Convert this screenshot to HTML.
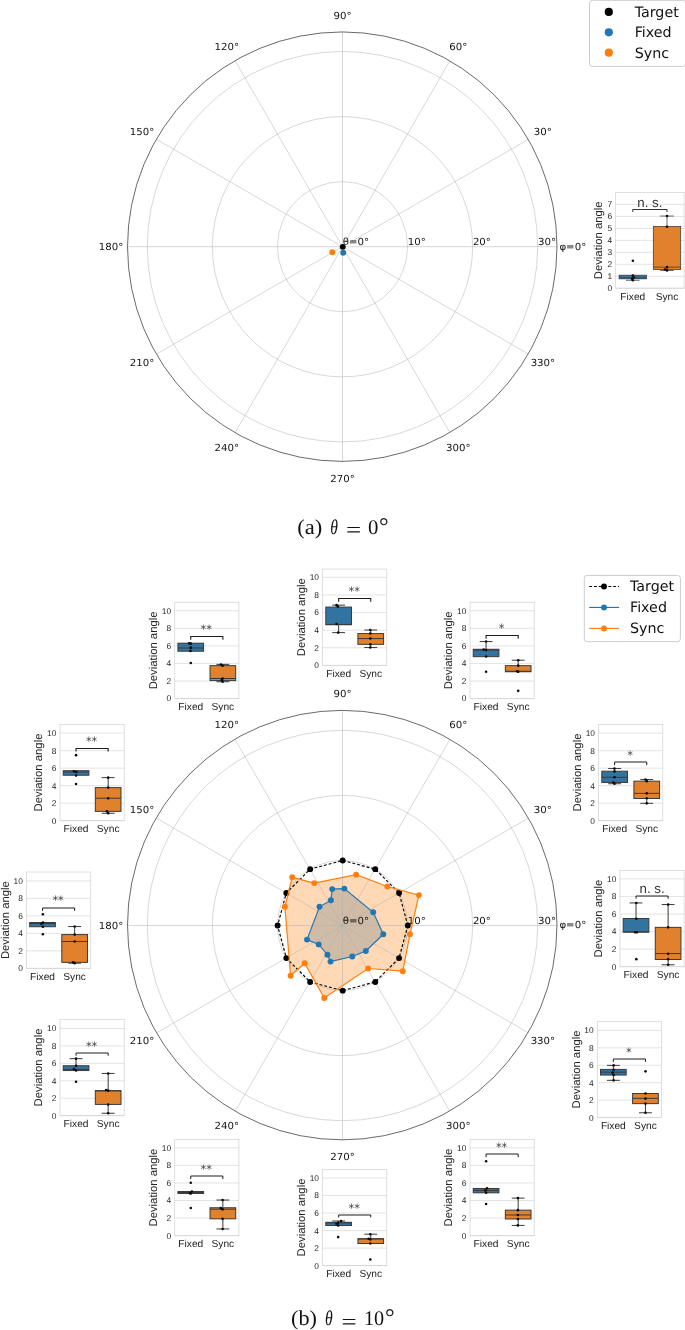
<!DOCTYPE html>
<html><head><meta charset="utf-8"><title>Figure</title>
<style>html,body{margin:0;padding:0;background:#fff}svg{display:block}</style></head>
<body>
<svg width="685" height="1330" viewBox="0 0 685 1330" text-rendering="geometricPrecision">
<rect width="685" height="1330" fill="#fff"/>
<circle cx="342.5" cy="246.7" r="65.07" fill="none" stroke="#b0b0b0" stroke-width="0.5"/>
<circle cx="342.5" cy="246.7" r="130.13" fill="none" stroke="#b0b0b0" stroke-width="0.5"/>
<circle cx="342.5" cy="246.7" r="195.20" fill="none" stroke="#b0b0b0" stroke-width="0.5"/>
<line x1="342.5" y1="246.7" x2="557.22" y2="246.70" stroke="#b0b0b0" stroke-width="0.5"/>
<line x1="342.5" y1="246.7" x2="528.45" y2="139.34" stroke="#b0b0b0" stroke-width="0.5"/>
<line x1="342.5" y1="246.7" x2="449.86" y2="60.75" stroke="#b0b0b0" stroke-width="0.5"/>
<line x1="342.5" y1="246.7" x2="342.50" y2="31.98" stroke="#b0b0b0" stroke-width="0.5"/>
<line x1="342.5" y1="246.7" x2="235.14" y2="60.75" stroke="#b0b0b0" stroke-width="0.5"/>
<line x1="342.5" y1="246.7" x2="156.55" y2="139.34" stroke="#b0b0b0" stroke-width="0.5"/>
<line x1="342.5" y1="246.7" x2="127.78" y2="246.70" stroke="#b0b0b0" stroke-width="0.5"/>
<line x1="342.5" y1="246.7" x2="156.55" y2="354.06" stroke="#b0b0b0" stroke-width="0.5"/>
<line x1="342.5" y1="246.7" x2="235.14" y2="432.65" stroke="#b0b0b0" stroke-width="0.5"/>
<line x1="342.5" y1="246.7" x2="342.50" y2="461.42" stroke="#b0b0b0" stroke-width="0.5"/>
<line x1="342.5" y1="246.7" x2="449.86" y2="432.65" stroke="#b0b0b0" stroke-width="0.5"/>
<line x1="342.5" y1="246.7" x2="528.45" y2="354.06" stroke="#b0b0b0" stroke-width="0.5"/>
<circle cx="342.25" cy="246.67" r="214.72" fill="none" stroke="#2a2a2a" stroke-width="0.7"/>
<text transform="translate(542.90,131.00) scale(1,0.95)" x="0" y="3.8" text-anchor="middle" font-size="10.2" font-family="DejaVu Sans, Liberation Sans, sans-serif" fill="#111">30°</text>
<text transform="translate(458.20,46.30) scale(1,0.95)" x="0" y="3.8" text-anchor="middle" font-size="10.2" font-family="DejaVu Sans, Liberation Sans, sans-serif" fill="#111">60°</text>
<text transform="translate(342.50,15.30) scale(1,0.95)" x="0" y="3.8" text-anchor="middle" font-size="10.2" font-family="DejaVu Sans, Liberation Sans, sans-serif" fill="#111">90°</text>
<text transform="translate(226.80,46.30) scale(1,0.95)" x="0" y="3.8" text-anchor="middle" font-size="10.2" font-family="DejaVu Sans, Liberation Sans, sans-serif" fill="#111">120°</text>
<text transform="translate(142.10,131.00) scale(1,0.95)" x="0" y="3.8" text-anchor="middle" font-size="10.2" font-family="DejaVu Sans, Liberation Sans, sans-serif" fill="#111">150°</text>
<text transform="translate(111.10,246.70) scale(1,0.95)" x="0" y="3.8" text-anchor="middle" font-size="10.2" font-family="DejaVu Sans, Liberation Sans, sans-serif" fill="#111">180°</text>
<text transform="translate(142.10,362.40) scale(1,0.95)" x="0" y="3.8" text-anchor="middle" font-size="10.2" font-family="DejaVu Sans, Liberation Sans, sans-serif" fill="#111">210°</text>
<text transform="translate(226.80,447.10) scale(1,0.95)" x="0" y="3.8" text-anchor="middle" font-size="10.2" font-family="DejaVu Sans, Liberation Sans, sans-serif" fill="#111">240°</text>
<text transform="translate(342.50,478.10) scale(1,0.95)" x="0" y="3.8" text-anchor="middle" font-size="10.2" font-family="DejaVu Sans, Liberation Sans, sans-serif" fill="#111">270°</text>
<text transform="translate(458.20,447.10) scale(1,0.95)" x="0" y="3.8" text-anchor="middle" font-size="10.2" font-family="DejaVu Sans, Liberation Sans, sans-serif" fill="#111">300°</text>
<text transform="translate(542.90,362.40) scale(1,0.95)" x="0" y="3.8" text-anchor="middle" font-size="10.2" font-family="DejaVu Sans, Liberation Sans, sans-serif" fill="#111">330°</text>
<text transform="translate(559.40,246.70) scale(1,0.95)" x="0" y="3.4" font-size="10.2" font-family="DejaVu Sans, Liberation Sans, sans-serif" fill="#111">φ=0°</text>
<text transform="translate(407.85,245.10) scale(1,0.95)" font-size="10.2" font-family="DejaVu Sans, Liberation Sans, sans-serif" fill="#111">10°</text>
<text transform="translate(472.89,245.10) scale(1,0.95)" font-size="10.2" font-family="DejaVu Sans, Liberation Sans, sans-serif" fill="#111">20°</text>
<text transform="translate(537.93,245.10) scale(1,0.95)" font-size="10.2" font-family="DejaVu Sans, Liberation Sans, sans-serif" fill="#111">30°</text>
<text transform="translate(342.70,245.00) scale(1,0.95)" font-size="10.2" font-family="DejaVu Sans, Liberation Sans, sans-serif" fill="#111">θ=0°</text>
<circle cx="342.75" cy="246.85" r="2.95" fill="#000"/>
<circle cx="343.2" cy="252.7" r="2.95" fill="#1f77b4"/>
<circle cx="332.3" cy="252.3" r="2.95" fill="#ff7f0e"/>
<g>
<rect x="615.66" y="192.41" width="68.47" height="95.80" fill="#fff" stroke="none"/>
<line x1="615.66" y1="288.20" x2="684.12" y2="288.20" stroke="#cccccc" stroke-width="0.55"/>
<text x="612.06" y="291.10" text-anchor="end" font-size="8.4" font-family="Liberation Sans, DejaVu Sans, sans-serif" fill="#262626">0</text>
<line x1="615.66" y1="276.24" x2="684.12" y2="276.24" stroke="#cccccc" stroke-width="0.55"/>
<text x="612.06" y="279.14" text-anchor="end" font-size="8.4" font-family="Liberation Sans, DejaVu Sans, sans-serif" fill="#262626">1</text>
<line x1="615.66" y1="264.28" x2="684.12" y2="264.28" stroke="#cccccc" stroke-width="0.55"/>
<text x="612.06" y="267.18" text-anchor="end" font-size="8.4" font-family="Liberation Sans, DejaVu Sans, sans-serif" fill="#262626">2</text>
<line x1="615.66" y1="252.31" x2="684.12" y2="252.31" stroke="#cccccc" stroke-width="0.55"/>
<text x="612.06" y="255.21" text-anchor="end" font-size="8.4" font-family="Liberation Sans, DejaVu Sans, sans-serif" fill="#262626">3</text>
<line x1="615.66" y1="240.35" x2="684.12" y2="240.35" stroke="#cccccc" stroke-width="0.55"/>
<text x="612.06" y="243.25" text-anchor="end" font-size="8.4" font-family="Liberation Sans, DejaVu Sans, sans-serif" fill="#262626">4</text>
<line x1="615.66" y1="228.38" x2="684.12" y2="228.38" stroke="#cccccc" stroke-width="0.55"/>
<text x="612.06" y="231.28" text-anchor="end" font-size="8.4" font-family="Liberation Sans, DejaVu Sans, sans-serif" fill="#262626">5</text>
<line x1="615.66" y1="216.42" x2="684.12" y2="216.42" stroke="#cccccc" stroke-width="0.55"/>
<text x="612.06" y="219.32" text-anchor="end" font-size="8.4" font-family="Liberation Sans, DejaVu Sans, sans-serif" fill="#262626">6</text>
<line x1="615.66" y1="204.45" x2="684.12" y2="204.45" stroke="#cccccc" stroke-width="0.55"/>
<text x="612.06" y="207.35" text-anchor="end" font-size="8.4" font-family="Liberation Sans, DejaVu Sans, sans-serif" fill="#262626">7</text>
<rect x="615.66" y="192.41" width="68.47" height="95.80" fill="none" stroke="#d2d2d2" stroke-width="0.7"/>
<line x1="632.77" y1="278.83" x2="632.77" y2="280.29" stroke="#3a3a3a" stroke-width="0.75"/>
<line x1="625.93" y1="280.29" x2="639.62" y2="280.29" stroke="#3a3a3a" stroke-width="0.75"/>
<rect x="619.08" y="275.18" width="27.39" height="3.65" fill="#3274a1" stroke="#3a3a3a" stroke-width="0.75"/>
<line x1="619.08" y1="277.81" x2="646.47" y2="277.81" stroke="#3a3a3a" stroke-width="0.75"/>
<circle cx="632.88" cy="260.73" r="1.3" fill="#0a0a0a"/>
<circle cx="632.88" cy="275.62" r="1.3" fill="#0a0a0a"/>
<circle cx="633.91" cy="277.52" r="1.3" fill="#0a0a0a"/>
<circle cx="632.01" cy="278.83" r="1.3" fill="#0a0a0a"/>
<circle cx="632.88" cy="280.29" r="1.3" fill="#0a0a0a"/>
<line x1="667.01" y1="226.42" x2="667.01" y2="216.06" stroke="#3a3a3a" stroke-width="0.75"/>
<line x1="660.16" y1="216.06" x2="673.85" y2="216.06" stroke="#3a3a3a" stroke-width="0.75"/>
<line x1="667.01" y1="269.49" x2="667.01" y2="270.51" stroke="#3a3a3a" stroke-width="0.75"/>
<line x1="660.16" y1="270.51" x2="673.85" y2="270.51" stroke="#3a3a3a" stroke-width="0.75"/>
<rect x="653.31" y="226.42" width="27.39" height="43.07" fill="#e1812c" stroke="#3a3a3a" stroke-width="0.75"/>
<line x1="653.31" y1="267.15" x2="680.70" y2="267.15" stroke="#3a3a3a" stroke-width="0.75"/>
<circle cx="667.04" cy="216.06" r="1.3" fill="#0a0a0a"/>
<circle cx="667.04" cy="226.72" r="1.3" fill="#0a0a0a"/>
<circle cx="667.04" cy="267.15" r="1.3" fill="#0a0a0a"/>
<circle cx="665.00" cy="269.49" r="1.3" fill="#0a0a0a"/>
<circle cx="667.04" cy="270.51" r="1.3" fill="#0a0a0a"/>
<path d="M632.77,211.98 V209.50 H667.01 V211.98" fill="none" stroke="#1c1c1c" stroke-width="0.9"/>
<text x="649.89" y="207.30" text-anchor="middle" font-size="13.3" font-family="Liberation Sans, DejaVu Sans, sans-serif" fill="#333">n. s.</text>
<text x="632.77" y="299.50" text-anchor="middle" font-size="10.2" font-family="Liberation Sans, DejaVu Sans, sans-serif" fill="#222">Fixed</text>
<text x="667.01" y="299.50" text-anchor="middle" font-size="10.2" font-family="Liberation Sans, DejaVu Sans, sans-serif" fill="#222">Sync</text>
<text transform="translate(602.06,240.31) rotate(-90)" text-anchor="middle" font-size="11.3" font-family="Liberation Sans, DejaVu Sans, sans-serif" fill="#222">Deviation angle</text>
</g>
<rect x="589.5" y="0.3" width="96" height="66.1" rx="3" ry="3" fill="#fff" fill-opacity="0.8" stroke="#cccccc" stroke-width="1"/>
<circle cx="608.8" cy="11.95" r="4.1" fill="#000"/>
<text x="634.7" y="16.60" font-size="14.25" font-family="DejaVu Sans, Liberation Sans, sans-serif" fill="#111">Target</text>
<circle cx="608.8" cy="32.33" r="4.1" fill="#1f77b4"/>
<text x="634.7" y="37.26" font-size="14.25" font-family="DejaVu Sans, Liberation Sans, sans-serif" fill="#111">Fixed</text>
<circle cx="608.8" cy="52.71" r="4.1" fill="#ff7f0e"/>
<text x="634.7" y="57.92" font-size="14.25" font-family="DejaVu Sans, Liberation Sans, sans-serif" fill="#111">Sync</text>
<text x="297.2" y="533.9" font-size="21.2" font-family="Liberation Serif, DejaVu Serif, serif" textLength="25.0" lengthAdjust="spacingAndGlyphs" fill="#111">(a)</text>
<text x="330.3" y="533.9" font-size="21" font-family="Liberation Serif, DejaVu Serif, serif" font-style="italic" textLength="7.7" lengthAdjust="spacingAndGlyphs" fill="#111">θ</text>
<text x="346.1" y="537.3" font-size="22" font-family="Liberation Serif, DejaVu Serif, serif" textLength="15.2" lengthAdjust="spacingAndGlyphs" fill="#111">=</text>
<text x="368.1" y="533.9" font-size="20.8" font-family="Liberation Serif, DejaVu Serif, serif" textLength="10.4" lengthAdjust="spacingAndGlyphs" fill="#111">0</text>
<text x="379.0" y="533.9" font-size="24" font-family="Liberation Serif, DejaVu Serif, serif" fill="#111">°</text>
<polygon points="383.30,934.30 373.20,912.30 344.35,888.60 332.20,889.10 330.90,900.20 319.50,906.80 307.00,939.60 318.70,944.40 327.40,954.70 330.50,961.60 352.25,956.50 365.85,951.00" fill="#1f77b4" fill-opacity="0.3" stroke="none"/>
<polygon points="410.00,934.30 418.90,895.10 387.30,886.50 356.10,874.70 314.20,883.10 292.20,877.30 284.90,906.80 290.60,975.80 304.65,963.20 324.20,998.00 368.10,968.50 402.80,971.20" fill="#ff7f0e" fill-opacity="0.3" stroke="none"/>
<circle cx="342.5" cy="925.5" r="65.07" fill="none" stroke="#b0b0b0" stroke-width="0.5"/>
<circle cx="342.5" cy="925.5" r="130.13" fill="none" stroke="#b0b0b0" stroke-width="0.5"/>
<circle cx="342.5" cy="925.5" r="195.20" fill="none" stroke="#b0b0b0" stroke-width="0.5"/>
<line x1="342.5" y1="925.5" x2="557.22" y2="925.50" stroke="#b0b0b0" stroke-width="0.5"/>
<line x1="342.5" y1="925.5" x2="528.45" y2="818.14" stroke="#b0b0b0" stroke-width="0.5"/>
<line x1="342.5" y1="925.5" x2="449.86" y2="739.55" stroke="#b0b0b0" stroke-width="0.5"/>
<line x1="342.5" y1="925.5" x2="342.50" y2="710.78" stroke="#b0b0b0" stroke-width="0.5"/>
<line x1="342.5" y1="925.5" x2="235.14" y2="739.55" stroke="#b0b0b0" stroke-width="0.5"/>
<line x1="342.5" y1="925.5" x2="156.55" y2="818.14" stroke="#b0b0b0" stroke-width="0.5"/>
<line x1="342.5" y1="925.5" x2="127.78" y2="925.50" stroke="#b0b0b0" stroke-width="0.5"/>
<line x1="342.5" y1="925.5" x2="156.55" y2="1032.86" stroke="#b0b0b0" stroke-width="0.5"/>
<line x1="342.5" y1="925.5" x2="235.14" y2="1111.45" stroke="#b0b0b0" stroke-width="0.5"/>
<line x1="342.5" y1="925.5" x2="342.50" y2="1140.22" stroke="#b0b0b0" stroke-width="0.5"/>
<line x1="342.5" y1="925.5" x2="449.86" y2="1111.45" stroke="#b0b0b0" stroke-width="0.5"/>
<line x1="342.5" y1="925.5" x2="528.45" y2="1032.86" stroke="#b0b0b0" stroke-width="0.5"/>
<circle cx="342.25" cy="925.1" r="214.72" fill="none" stroke="#2a2a2a" stroke-width="0.7"/>
<text transform="translate(542.90,809.20) scale(1,0.95)" x="0" y="3.8" text-anchor="middle" font-size="10.2" font-family="DejaVu Sans, Liberation Sans, sans-serif" fill="#111">30°</text>
<text transform="translate(458.20,724.50) scale(1,0.95)" x="0" y="3.8" text-anchor="middle" font-size="10.2" font-family="DejaVu Sans, Liberation Sans, sans-serif" fill="#111">60°</text>
<text transform="translate(342.50,693.50) scale(1,0.95)" x="0" y="3.8" text-anchor="middle" font-size="10.2" font-family="DejaVu Sans, Liberation Sans, sans-serif" fill="#111">90°</text>
<text transform="translate(226.80,724.50) scale(1,0.95)" x="0" y="3.8" text-anchor="middle" font-size="10.2" font-family="DejaVu Sans, Liberation Sans, sans-serif" fill="#111">120°</text>
<text transform="translate(142.10,809.20) scale(1,0.95)" x="0" y="3.8" text-anchor="middle" font-size="10.2" font-family="DejaVu Sans, Liberation Sans, sans-serif" fill="#111">150°</text>
<text transform="translate(111.10,924.90) scale(1,0.95)" x="0" y="3.8" text-anchor="middle" font-size="10.2" font-family="DejaVu Sans, Liberation Sans, sans-serif" fill="#111">180°</text>
<text transform="translate(142.10,1040.60) scale(1,0.95)" x="0" y="3.8" text-anchor="middle" font-size="10.2" font-family="DejaVu Sans, Liberation Sans, sans-serif" fill="#111">210°</text>
<text transform="translate(226.80,1125.30) scale(1,0.95)" x="0" y="3.8" text-anchor="middle" font-size="10.2" font-family="DejaVu Sans, Liberation Sans, sans-serif" fill="#111">240°</text>
<text transform="translate(342.50,1156.30) scale(1,0.95)" x="0" y="3.8" text-anchor="middle" font-size="10.2" font-family="DejaVu Sans, Liberation Sans, sans-serif" fill="#111">270°</text>
<text transform="translate(458.20,1125.30) scale(1,0.95)" x="0" y="3.8" text-anchor="middle" font-size="10.2" font-family="DejaVu Sans, Liberation Sans, sans-serif" fill="#111">300°</text>
<text transform="translate(542.90,1040.60) scale(1,0.95)" x="0" y="3.8" text-anchor="middle" font-size="10.2" font-family="DejaVu Sans, Liberation Sans, sans-serif" fill="#111">330°</text>
<text transform="translate(559.40,924.90) scale(1,0.95)" x="0" y="3.4" font-size="10.2" font-family="DejaVu Sans, Liberation Sans, sans-serif" fill="#111">φ=0°</text>
<text transform="translate(407.85,923.90) scale(1,0.95)" font-size="10.2" font-family="DejaVu Sans, Liberation Sans, sans-serif" fill="#111">10°</text>
<text transform="translate(472.89,923.90) scale(1,0.95)" font-size="10.2" font-family="DejaVu Sans, Liberation Sans, sans-serif" fill="#111">20°</text>
<text transform="translate(537.93,923.90) scale(1,0.95)" font-size="10.2" font-family="DejaVu Sans, Liberation Sans, sans-serif" fill="#111">30°</text>
<text transform="translate(342.70,923.80) scale(1,0.95)" font-size="10.2" font-family="DejaVu Sans, Liberation Sans, sans-serif" fill="#111">θ=0°</text>
<polygon points="407.80,925.55 399.08,893.00 375.25,869.17 342.70,860.45 310.15,869.17 286.32,893.00 277.60,925.55 286.32,958.10 310.15,981.93 342.70,990.65 375.25,981.93 399.08,958.10" fill="none" stroke="#000" stroke-width="1.15" stroke-dasharray="2.9,2.0"/>
<circle cx="407.80" cy="925.55" r="2.95" fill="#000"/>
<circle cx="399.08" cy="893.00" r="2.95" fill="#000"/>
<circle cx="375.25" cy="869.17" r="2.95" fill="#000"/>
<circle cx="342.70" cy="860.45" r="2.95" fill="#000"/>
<circle cx="310.15" cy="869.17" r="2.95" fill="#000"/>
<circle cx="286.32" cy="893.00" r="2.95" fill="#000"/>
<circle cx="277.60" cy="925.55" r="2.95" fill="#000"/>
<circle cx="286.32" cy="958.10" r="2.95" fill="#000"/>
<circle cx="310.15" cy="981.93" r="2.95" fill="#000"/>
<circle cx="342.70" cy="990.65" r="2.95" fill="#000"/>
<circle cx="375.25" cy="981.93" r="2.95" fill="#000"/>
<circle cx="399.08" cy="958.10" r="2.95" fill="#000"/>
<polygon points="383.30,934.30 373.20,912.30 344.35,888.60 332.20,889.10 330.90,900.20 319.50,906.80 307.00,939.60 318.70,944.40 327.40,954.70 330.50,961.60 352.25,956.50 365.85,951.00" fill="none" stroke="#1f77b4" stroke-width="1.2"/>
<circle cx="383.30" cy="934.30" r="2.95" fill="#1f77b4"/>
<circle cx="373.20" cy="912.30" r="2.95" fill="#1f77b4"/>
<circle cx="344.35" cy="888.60" r="2.95" fill="#1f77b4"/>
<circle cx="332.20" cy="889.10" r="2.95" fill="#1f77b4"/>
<circle cx="330.90" cy="900.20" r="2.95" fill="#1f77b4"/>
<circle cx="319.50" cy="906.80" r="2.95" fill="#1f77b4"/>
<circle cx="307.00" cy="939.60" r="2.95" fill="#1f77b4"/>
<circle cx="318.70" cy="944.40" r="2.95" fill="#1f77b4"/>
<circle cx="327.40" cy="954.70" r="2.95" fill="#1f77b4"/>
<circle cx="330.50" cy="961.60" r="2.95" fill="#1f77b4"/>
<circle cx="352.25" cy="956.50" r="2.95" fill="#1f77b4"/>
<circle cx="365.85" cy="951.00" r="2.95" fill="#1f77b4"/>
<polygon points="410.00,934.30 418.90,895.10 387.30,886.50 356.10,874.70 314.20,883.10 292.20,877.30 284.90,906.80 290.60,975.80 304.65,963.20 324.20,998.00 368.10,968.50 402.80,971.20" fill="none" stroke="#ff7f0e" stroke-width="1.2"/>
<circle cx="410.00" cy="934.30" r="2.95" fill="#ff7f0e"/>
<circle cx="418.90" cy="895.10" r="2.95" fill="#ff7f0e"/>
<circle cx="387.30" cy="886.50" r="2.95" fill="#ff7f0e"/>
<circle cx="356.10" cy="874.70" r="2.95" fill="#ff7f0e"/>
<circle cx="314.20" cy="883.10" r="2.95" fill="#ff7f0e"/>
<circle cx="292.20" cy="877.30" r="2.95" fill="#ff7f0e"/>
<circle cx="284.90" cy="906.80" r="2.95" fill="#ff7f0e"/>
<circle cx="290.60" cy="975.80" r="2.95" fill="#ff7f0e"/>
<circle cx="304.65" cy="963.20" r="2.95" fill="#ff7f0e"/>
<circle cx="324.20" cy="998.00" r="2.95" fill="#ff7f0e"/>
<circle cx="368.10" cy="968.50" r="2.95" fill="#ff7f0e"/>
<circle cx="402.80" cy="971.20" r="2.95" fill="#ff7f0e"/>
<g>
<rect x="322.60" y="569.07" width="64.20" height="96.30" fill="#fff" stroke="none"/>
<line x1="322.60" y1="665.37" x2="386.80" y2="665.37" stroke="#cccccc" stroke-width="0.55"/>
<text x="319.00" y="668.27" text-anchor="end" font-size="8.4" font-family="Liberation Sans, DejaVu Sans, sans-serif" fill="#262626">0</text>
<line x1="322.60" y1="647.77" x2="386.80" y2="647.77" stroke="#cccccc" stroke-width="0.55"/>
<text x="319.00" y="650.67" text-anchor="end" font-size="8.4" font-family="Liberation Sans, DejaVu Sans, sans-serif" fill="#262626">2</text>
<line x1="322.60" y1="630.17" x2="386.80" y2="630.17" stroke="#cccccc" stroke-width="0.55"/>
<text x="319.00" y="633.07" text-anchor="end" font-size="8.4" font-family="Liberation Sans, DejaVu Sans, sans-serif" fill="#262626">4</text>
<line x1="322.60" y1="612.57" x2="386.80" y2="612.57" stroke="#cccccc" stroke-width="0.55"/>
<text x="319.00" y="615.47" text-anchor="end" font-size="8.4" font-family="Liberation Sans, DejaVu Sans, sans-serif" fill="#262626">6</text>
<line x1="322.60" y1="594.97" x2="386.80" y2="594.97" stroke="#cccccc" stroke-width="0.55"/>
<text x="319.00" y="597.87" text-anchor="end" font-size="8.4" font-family="Liberation Sans, DejaVu Sans, sans-serif" fill="#262626">8</text>
<line x1="322.60" y1="577.37" x2="386.80" y2="577.37" stroke="#cccccc" stroke-width="0.55"/>
<text x="319.00" y="580.27" text-anchor="end" font-size="8.4" font-family="Liberation Sans, DejaVu Sans, sans-serif" fill="#262626">10</text>
<rect x="322.60" y="569.07" width="64.20" height="96.30" fill="none" stroke="#d2d2d2" stroke-width="0.7"/>
<line x1="338.65" y1="607.07" x2="338.65" y2="605.15" stroke="#3a3a3a" stroke-width="1.0"/>
<line x1="332.23" y1="605.15" x2="345.07" y2="605.15" stroke="#3a3a3a" stroke-width="1.0"/>
<line x1="338.65" y1="624.74" x2="338.65" y2="632.61" stroke="#3a3a3a" stroke-width="1.0"/>
<line x1="332.23" y1="632.61" x2="345.07" y2="632.61" stroke="#3a3a3a" stroke-width="1.0"/>
<rect x="325.81" y="607.07" width="25.68" height="17.67" fill="#3274a1" stroke="#3a3a3a" stroke-width="1.0"/>
<line x1="325.81" y1="624.42" x2="351.49" y2="624.42" stroke="#3a3a3a" stroke-width="1.0"/>
<circle cx="336.57" cy="605.15" r="1.3" fill="#0a0a0a"/>
<circle cx="337.86" cy="606.43" r="1.3" fill="#0a0a0a"/>
<circle cx="336.57" cy="623.94" r="1.3" fill="#0a0a0a"/>
<circle cx="338.18" cy="632.61" r="1.3" fill="#0a0a0a"/>
<line x1="370.75" y1="633.57" x2="370.75" y2="630.04" stroke="#3a3a3a" stroke-width="1.0"/>
<line x1="364.33" y1="630.04" x2="377.17" y2="630.04" stroke="#3a3a3a" stroke-width="1.0"/>
<line x1="370.75" y1="644.33" x2="370.75" y2="647.54" stroke="#3a3a3a" stroke-width="1.0"/>
<line x1="364.33" y1="647.54" x2="377.17" y2="647.54" stroke="#3a3a3a" stroke-width="1.0"/>
<rect x="357.91" y="633.57" width="25.68" height="10.76" fill="#e1812c" stroke="#3a3a3a" stroke-width="1.0"/>
<line x1="357.91" y1="638.55" x2="383.59" y2="638.55" stroke="#3a3a3a" stroke-width="1.0"/>
<circle cx="370.30" cy="630.04" r="1.3" fill="#0a0a0a"/>
<circle cx="370.30" cy="633.57" r="1.3" fill="#0a0a0a"/>
<circle cx="370.30" cy="638.55" r="1.3" fill="#0a0a0a"/>
<circle cx="370.30" cy="644.33" r="1.3" fill="#0a0a0a"/>
<circle cx="370.30" cy="647.54" r="1.3" fill="#0a0a0a"/>
<path d="M338.65,601.71 V598.50 H370.75 V601.71" fill="none" stroke="#1c1c1c" stroke-width="1.1"/>
<text x="354.20" y="595.03" text-anchor="middle" font-size="11.4" font-family="DejaVu Sans, Liberation Sans, sans-serif" fill="#3a3a3a">**</text>
<text x="338.65" y="676.67" text-anchor="middle" font-size="10.2" font-family="Liberation Sans, DejaVu Sans, sans-serif" fill="#222">Fixed</text>
<text x="370.75" y="676.67" text-anchor="middle" font-size="10.2" font-family="Liberation Sans, DejaVu Sans, sans-serif" fill="#222">Sync</text>
<text transform="translate(305.00,617.22) rotate(-90)" text-anchor="middle" font-size="11.3" font-family="Liberation Sans, DejaVu Sans, sans-serif" fill="#222">Deviation angle</text>
</g>
<g>
<rect x="174.71" y="602.28" width="64.20" height="96.30" fill="#fff" stroke="none"/>
<line x1="174.71" y1="698.58" x2="238.91" y2="698.58" stroke="#cccccc" stroke-width="0.55"/>
<text x="171.11" y="701.48" text-anchor="end" font-size="8.4" font-family="Liberation Sans, DejaVu Sans, sans-serif" fill="#262626">0</text>
<line x1="174.71" y1="681.01" x2="238.91" y2="681.01" stroke="#cccccc" stroke-width="0.55"/>
<text x="171.11" y="683.91" text-anchor="end" font-size="8.4" font-family="Liberation Sans, DejaVu Sans, sans-serif" fill="#262626">2</text>
<line x1="174.71" y1="663.44" x2="238.91" y2="663.44" stroke="#cccccc" stroke-width="0.55"/>
<text x="171.11" y="666.34" text-anchor="end" font-size="8.4" font-family="Liberation Sans, DejaVu Sans, sans-serif" fill="#262626">4</text>
<line x1="174.71" y1="645.88" x2="238.91" y2="645.88" stroke="#cccccc" stroke-width="0.55"/>
<text x="171.11" y="648.78" text-anchor="end" font-size="8.4" font-family="Liberation Sans, DejaVu Sans, sans-serif" fill="#262626">6</text>
<line x1="174.71" y1="628.31" x2="238.91" y2="628.31" stroke="#cccccc" stroke-width="0.55"/>
<text x="171.11" y="631.21" text-anchor="end" font-size="8.4" font-family="Liberation Sans, DejaVu Sans, sans-serif" fill="#262626">8</text>
<line x1="174.71" y1="610.74" x2="238.91" y2="610.74" stroke="#cccccc" stroke-width="0.55"/>
<text x="171.11" y="613.64" text-anchor="end" font-size="8.4" font-family="Liberation Sans, DejaVu Sans, sans-serif" fill="#262626">10</text>
<rect x="174.71" y="602.28" width="64.20" height="96.30" fill="none" stroke="#d2d2d2" stroke-width="0.7"/>
<rect x="177.92" y="643.18" width="25.68" height="8.03" fill="#3274a1" stroke="#3a3a3a" stroke-width="1.0"/>
<line x1="177.92" y1="648.00" x2="203.60" y2="648.00" stroke="#3a3a3a" stroke-width="1.0"/>
<circle cx="189.16" cy="643.18" r="1.3" fill="#0a0a0a"/>
<circle cx="190.77" cy="643.66" r="1.3" fill="#0a0a0a"/>
<circle cx="190.77" cy="647.67" r="1.3" fill="#0a0a0a"/>
<circle cx="190.45" cy="650.89" r="1.3" fill="#0a0a0a"/>
<circle cx="190.77" cy="662.93" r="1.3" fill="#0a0a0a"/>
<line x1="222.86" y1="665.66" x2="222.86" y2="664.38" stroke="#3a3a3a" stroke-width="1.0"/>
<line x1="216.44" y1="664.38" x2="229.28" y2="664.38" stroke="#3a3a3a" stroke-width="1.0"/>
<line x1="222.86" y1="680.59" x2="222.86" y2="681.72" stroke="#3a3a3a" stroke-width="1.0"/>
<line x1="216.44" y1="681.72" x2="229.28" y2="681.72" stroke="#3a3a3a" stroke-width="1.0"/>
<rect x="210.02" y="665.66" width="25.68" height="14.93" fill="#e1812c" stroke="#3a3a3a" stroke-width="1.0"/>
<line x1="210.02" y1="678.51" x2="235.70" y2="678.51" stroke="#3a3a3a" stroke-width="1.0"/>
<circle cx="220.96" cy="664.54" r="1.3" fill="#0a0a0a"/>
<circle cx="222.57" cy="665.82" r="1.3" fill="#0a0a0a"/>
<circle cx="222.57" cy="678.51" r="1.3" fill="#0a0a0a"/>
<circle cx="221.76" cy="680.11" r="1.3" fill="#0a0a0a"/>
<circle cx="222.57" cy="681.72" r="1.3" fill="#0a0a0a"/>
<path d="M190.76,639.71 V636.50 H222.86 V639.71" fill="none" stroke="#1c1c1c" stroke-width="1.1"/>
<text x="206.31" y="633.06" text-anchor="middle" font-size="11.4" font-family="DejaVu Sans, Liberation Sans, sans-serif" fill="#3a3a3a">**</text>
<text x="190.76" y="709.88" text-anchor="middle" font-size="10.2" font-family="Liberation Sans, DejaVu Sans, sans-serif" fill="#222">Fixed</text>
<text x="222.86" y="709.88" text-anchor="middle" font-size="10.2" font-family="Liberation Sans, DejaVu Sans, sans-serif" fill="#222">Sync</text>
<text transform="translate(157.11,650.43) rotate(-90)" text-anchor="middle" font-size="11.3" font-family="Liberation Sans, DejaVu Sans, sans-serif" fill="#222">Deviation angle</text>
</g>
<g>
<rect x="470.03" y="602.28" width="64.20" height="96.30" fill="#fff" stroke="none"/>
<line x1="470.03" y1="698.58" x2="534.23" y2="698.58" stroke="#cccccc" stroke-width="0.55"/>
<text x="466.43" y="701.48" text-anchor="end" font-size="8.4" font-family="Liberation Sans, DejaVu Sans, sans-serif" fill="#262626">0</text>
<line x1="470.03" y1="681.01" x2="534.23" y2="681.01" stroke="#cccccc" stroke-width="0.55"/>
<text x="466.43" y="683.91" text-anchor="end" font-size="8.4" font-family="Liberation Sans, DejaVu Sans, sans-serif" fill="#262626">2</text>
<line x1="470.03" y1="663.44" x2="534.23" y2="663.44" stroke="#cccccc" stroke-width="0.55"/>
<text x="466.43" y="666.34" text-anchor="end" font-size="8.4" font-family="Liberation Sans, DejaVu Sans, sans-serif" fill="#262626">4</text>
<line x1="470.03" y1="645.88" x2="534.23" y2="645.88" stroke="#cccccc" stroke-width="0.55"/>
<text x="466.43" y="648.78" text-anchor="end" font-size="8.4" font-family="Liberation Sans, DejaVu Sans, sans-serif" fill="#262626">6</text>
<line x1="470.03" y1="628.31" x2="534.23" y2="628.31" stroke="#cccccc" stroke-width="0.55"/>
<text x="466.43" y="631.21" text-anchor="end" font-size="8.4" font-family="Liberation Sans, DejaVu Sans, sans-serif" fill="#262626">8</text>
<line x1="470.03" y1="610.74" x2="534.23" y2="610.74" stroke="#cccccc" stroke-width="0.55"/>
<text x="466.43" y="613.64" text-anchor="end" font-size="8.4" font-family="Liberation Sans, DejaVu Sans, sans-serif" fill="#262626">10</text>
<rect x="470.03" y="602.28" width="64.20" height="96.30" fill="none" stroke="#d2d2d2" stroke-width="0.7"/>
<line x1="486.08" y1="649.28" x2="486.08" y2="641.57" stroke="#3a3a3a" stroke-width="1.0"/>
<line x1="479.66" y1="641.57" x2="492.50" y2="641.57" stroke="#3a3a3a" stroke-width="1.0"/>
<rect x="473.24" y="649.28" width="25.68" height="7.39" fill="#3274a1" stroke="#3a3a3a" stroke-width="1.0"/>
<line x1="473.24" y1="650.08" x2="498.92" y2="650.08" stroke="#3a3a3a" stroke-width="1.0"/>
<circle cx="486.09" cy="641.57" r="1.3" fill="#0a0a0a"/>
<circle cx="483.68" cy="649.60" r="1.3" fill="#0a0a0a"/>
<circle cx="486.09" cy="650.08" r="1.3" fill="#0a0a0a"/>
<circle cx="486.09" cy="656.51" r="1.3" fill="#0a0a0a"/>
<circle cx="486.09" cy="671.76" r="1.3" fill="#0a0a0a"/>
<line x1="518.18" y1="665.66" x2="518.18" y2="660.20" stroke="#3a3a3a" stroke-width="1.0"/>
<line x1="511.76" y1="660.20" x2="524.60" y2="660.20" stroke="#3a3a3a" stroke-width="1.0"/>
<rect x="505.34" y="665.66" width="25.68" height="6.10" fill="#e1812c" stroke="#3a3a3a" stroke-width="1.0"/>
<line x1="505.34" y1="671.28" x2="531.02" y2="671.28" stroke="#3a3a3a" stroke-width="1.0"/>
<circle cx="518.21" cy="660.20" r="1.3" fill="#0a0a0a"/>
<circle cx="518.21" cy="665.66" r="1.3" fill="#0a0a0a"/>
<circle cx="517.08" cy="671.28" r="1.3" fill="#0a0a0a"/>
<circle cx="518.21" cy="671.76" r="1.3" fill="#0a0a0a"/>
<circle cx="518.21" cy="690.87" r="1.3" fill="#0a0a0a"/>
<path d="M486.08,638.71 V635.50 H518.18 V638.71" fill="none" stroke="#1c1c1c" stroke-width="1.1"/>
<text x="501.63" y="631.78" text-anchor="middle" font-size="11.4" font-family="DejaVu Sans, Liberation Sans, sans-serif" fill="#3a3a3a">*</text>
<text x="486.08" y="709.88" text-anchor="middle" font-size="10.2" font-family="Liberation Sans, DejaVu Sans, sans-serif" fill="#222">Fixed</text>
<text x="518.18" y="709.88" text-anchor="middle" font-size="10.2" font-family="Liberation Sans, DejaVu Sans, sans-serif" fill="#222">Sync</text>
<text transform="translate(452.43,650.43) rotate(-90)" text-anchor="middle" font-size="11.3" font-family="Liberation Sans, DejaVu Sans, sans-serif" fill="#222">Deviation angle</text>
</g>
<g>
<rect x="60.01" y="724.37" width="64.20" height="96.30" fill="#fff" stroke="none"/>
<line x1="60.01" y1="820.67" x2="124.21" y2="820.67" stroke="#cccccc" stroke-width="0.55"/>
<text x="56.41" y="823.57" text-anchor="end" font-size="8.4" font-family="Liberation Sans, DejaVu Sans, sans-serif" fill="#262626">0</text>
<line x1="60.01" y1="803.16" x2="124.21" y2="803.16" stroke="#cccccc" stroke-width="0.55"/>
<text x="56.41" y="806.06" text-anchor="end" font-size="8.4" font-family="Liberation Sans, DejaVu Sans, sans-serif" fill="#262626">2</text>
<line x1="60.01" y1="785.66" x2="124.21" y2="785.66" stroke="#cccccc" stroke-width="0.55"/>
<text x="56.41" y="788.56" text-anchor="end" font-size="8.4" font-family="Liberation Sans, DejaVu Sans, sans-serif" fill="#262626">4</text>
<line x1="60.01" y1="768.16" x2="124.21" y2="768.16" stroke="#cccccc" stroke-width="0.55"/>
<text x="56.41" y="771.06" text-anchor="end" font-size="8.4" font-family="Liberation Sans, DejaVu Sans, sans-serif" fill="#262626">6</text>
<line x1="60.01" y1="750.65" x2="124.21" y2="750.65" stroke="#cccccc" stroke-width="0.55"/>
<text x="56.41" y="753.55" text-anchor="end" font-size="8.4" font-family="Liberation Sans, DejaVu Sans, sans-serif" fill="#262626">8</text>
<line x1="60.01" y1="733.15" x2="124.21" y2="733.15" stroke="#cccccc" stroke-width="0.55"/>
<text x="56.41" y="736.05" text-anchor="end" font-size="8.4" font-family="Liberation Sans, DejaVu Sans, sans-serif" fill="#262626">10</text>
<rect x="60.01" y="724.37" width="64.20" height="96.30" fill="none" stroke="#d2d2d2" stroke-width="0.7"/>
<rect x="63.22" y="770.73" width="25.68" height="4.50" fill="#3274a1" stroke="#3a3a3a" stroke-width="1.0"/>
<line x1="63.22" y1="772.01" x2="88.90" y2="772.01" stroke="#3a3a3a" stroke-width="1.0"/>
<circle cx="76.07" cy="755.15" r="1.3" fill="#0a0a0a"/>
<circle cx="73.98" cy="771.21" r="1.3" fill="#0a0a0a"/>
<circle cx="76.39" cy="772.01" r="1.3" fill="#0a0a0a"/>
<circle cx="76.07" cy="775.54" r="1.3" fill="#0a0a0a"/>
<circle cx="76.07" cy="784.05" r="1.3" fill="#0a0a0a"/>
<line x1="108.16" y1="787.59" x2="108.16" y2="777.63" stroke="#3a3a3a" stroke-width="1.0"/>
<line x1="101.74" y1="777.63" x2="114.58" y2="777.63" stroke="#3a3a3a" stroke-width="1.0"/>
<line x1="108.16" y1="811.35" x2="108.16" y2="813.28" stroke="#3a3a3a" stroke-width="1.0"/>
<line x1="101.74" y1="813.28" x2="114.58" y2="813.28" stroke="#3a3a3a" stroke-width="1.0"/>
<rect x="95.32" y="787.59" width="25.68" height="23.77" fill="#e1812c" stroke="#3a3a3a" stroke-width="1.0"/>
<line x1="95.32" y1="798.19" x2="121.00" y2="798.19" stroke="#3a3a3a" stroke-width="1.0"/>
<circle cx="108.19" cy="777.63" r="1.3" fill="#0a0a0a"/>
<circle cx="108.19" cy="787.59" r="1.3" fill="#0a0a0a"/>
<circle cx="108.19" cy="798.19" r="1.3" fill="#0a0a0a"/>
<circle cx="106.90" cy="811.35" r="1.3" fill="#0a0a0a"/>
<circle cx="108.19" cy="813.28" r="1.3" fill="#0a0a0a"/>
<path d="M76.06,751.39 V748.50 H108.16 V751.39" fill="none" stroke="#1c1c1c" stroke-width="1.1"/>
<text x="91.61" y="745.35" text-anchor="middle" font-size="11.4" font-family="DejaVu Sans, Liberation Sans, sans-serif" fill="#3a3a3a">**</text>
<text x="76.06" y="831.97" text-anchor="middle" font-size="10.2" font-family="Liberation Sans, DejaVu Sans, sans-serif" fill="#222">Fixed</text>
<text x="108.16" y="831.97" text-anchor="middle" font-size="10.2" font-family="Liberation Sans, DejaVu Sans, sans-serif" fill="#222">Sync</text>
<text transform="translate(42.41,772.52) rotate(-90)" text-anchor="middle" font-size="11.3" font-family="Liberation Sans, DejaVu Sans, sans-serif" fill="#222">Deviation angle</text>
</g>
<g>
<rect x="598.59" y="724.37" width="64.20" height="96.30" fill="#fff" stroke="none"/>
<line x1="598.59" y1="820.67" x2="662.79" y2="820.67" stroke="#cccccc" stroke-width="0.55"/>
<text x="594.99" y="823.57" text-anchor="end" font-size="8.4" font-family="Liberation Sans, DejaVu Sans, sans-serif" fill="#262626">0</text>
<line x1="598.59" y1="803.16" x2="662.79" y2="803.16" stroke="#cccccc" stroke-width="0.55"/>
<text x="594.99" y="806.06" text-anchor="end" font-size="8.4" font-family="Liberation Sans, DejaVu Sans, sans-serif" fill="#262626">2</text>
<line x1="598.59" y1="785.66" x2="662.79" y2="785.66" stroke="#cccccc" stroke-width="0.55"/>
<text x="594.99" y="788.56" text-anchor="end" font-size="8.4" font-family="Liberation Sans, DejaVu Sans, sans-serif" fill="#262626">4</text>
<line x1="598.59" y1="768.16" x2="662.79" y2="768.16" stroke="#cccccc" stroke-width="0.55"/>
<text x="594.99" y="771.06" text-anchor="end" font-size="8.4" font-family="Liberation Sans, DejaVu Sans, sans-serif" fill="#262626">6</text>
<line x1="598.59" y1="750.65" x2="662.79" y2="750.65" stroke="#cccccc" stroke-width="0.55"/>
<text x="594.99" y="753.55" text-anchor="end" font-size="8.4" font-family="Liberation Sans, DejaVu Sans, sans-serif" fill="#262626">8</text>
<line x1="598.59" y1="733.15" x2="662.79" y2="733.15" stroke="#cccccc" stroke-width="0.55"/>
<text x="594.99" y="736.05" text-anchor="end" font-size="8.4" font-family="Liberation Sans, DejaVu Sans, sans-serif" fill="#262626">10</text>
<rect x="598.59" y="724.37" width="64.20" height="96.30" fill="none" stroke="#d2d2d2" stroke-width="0.7"/>
<line x1="614.64" y1="771.21" x2="614.64" y2="768.48" stroke="#3a3a3a" stroke-width="1.0"/>
<line x1="608.22" y1="768.48" x2="621.06" y2="768.48" stroke="#3a3a3a" stroke-width="1.0"/>
<line x1="614.64" y1="782.45" x2="614.64" y2="783.73" stroke="#3a3a3a" stroke-width="1.0"/>
<line x1="608.22" y1="783.73" x2="621.06" y2="783.73" stroke="#3a3a3a" stroke-width="1.0"/>
<rect x="601.80" y="771.21" width="25.68" height="11.24" fill="#3274a1" stroke="#3a3a3a" stroke-width="1.0"/>
<line x1="601.80" y1="777.31" x2="627.48" y2="777.31" stroke="#3a3a3a" stroke-width="1.0"/>
<circle cx="614.48" cy="768.48" r="1.3" fill="#0a0a0a"/>
<circle cx="614.48" cy="771.53" r="1.3" fill="#0a0a0a"/>
<circle cx="614.48" cy="777.31" r="1.3" fill="#0a0a0a"/>
<circle cx="613.36" cy="782.45" r="1.3" fill="#0a0a0a"/>
<circle cx="614.48" cy="783.73" r="1.3" fill="#0a0a0a"/>
<line x1="646.74" y1="781.16" x2="646.74" y2="779.56" stroke="#3a3a3a" stroke-width="1.0"/>
<line x1="640.32" y1="779.56" x2="653.16" y2="779.56" stroke="#3a3a3a" stroke-width="1.0"/>
<line x1="646.74" y1="798.51" x2="646.74" y2="803.33" stroke="#3a3a3a" stroke-width="1.0"/>
<line x1="640.32" y1="803.33" x2="653.16" y2="803.33" stroke="#3a3a3a" stroke-width="1.0"/>
<rect x="633.90" y="781.16" width="25.68" height="17.34" fill="#e1812c" stroke="#3a3a3a" stroke-width="1.0"/>
<line x1="633.90" y1="793.37" x2="659.58" y2="793.37" stroke="#3a3a3a" stroke-width="1.0"/>
<circle cx="645.48" cy="779.56" r="1.3" fill="#0a0a0a"/>
<circle cx="646.76" cy="781.16" r="1.3" fill="#0a0a0a"/>
<circle cx="646.76" cy="793.37" r="1.3" fill="#0a0a0a"/>
<circle cx="646.76" cy="798.19" r="1.3" fill="#0a0a0a"/>
<circle cx="646.76" cy="803.33" r="1.3" fill="#0a0a0a"/>
<path d="M614.64,765.21 V762.00 H646.74 V765.21" fill="none" stroke="#1c1c1c" stroke-width="1.0"/>
<text x="630.19" y="759.00" text-anchor="middle" font-size="11.4" font-family="DejaVu Sans, Liberation Sans, sans-serif" fill="#3a3a3a">*</text>
<text x="614.64" y="831.97" text-anchor="middle" font-size="10.2" font-family="Liberation Sans, DejaVu Sans, sans-serif" fill="#222">Fixed</text>
<text x="646.74" y="831.97" text-anchor="middle" font-size="10.2" font-family="Liberation Sans, DejaVu Sans, sans-serif" fill="#222">Sync</text>
<text transform="translate(580.99,772.52) rotate(-90)" text-anchor="middle" font-size="11.3" font-family="Liberation Sans, DejaVu Sans, sans-serif" fill="#222">Deviation angle</text>
</g>
<g>
<rect x="26.50" y="872.01" width="64.20" height="96.30" fill="#fff" stroke="none"/>
<line x1="26.50" y1="968.31" x2="90.70" y2="968.31" stroke="#cccccc" stroke-width="0.55"/>
<text x="22.90" y="971.21" text-anchor="end" font-size="8.4" font-family="Liberation Sans, DejaVu Sans, sans-serif" fill="#262626">0</text>
<line x1="26.50" y1="950.84" x2="90.70" y2="950.84" stroke="#cccccc" stroke-width="0.55"/>
<text x="22.90" y="953.74" text-anchor="end" font-size="8.4" font-family="Liberation Sans, DejaVu Sans, sans-serif" fill="#262626">2</text>
<line x1="26.50" y1="933.37" x2="90.70" y2="933.37" stroke="#cccccc" stroke-width="0.55"/>
<text x="22.90" y="936.27" text-anchor="end" font-size="8.4" font-family="Liberation Sans, DejaVu Sans, sans-serif" fill="#262626">4</text>
<line x1="26.50" y1="915.89" x2="90.70" y2="915.89" stroke="#cccccc" stroke-width="0.55"/>
<text x="22.90" y="918.79" text-anchor="end" font-size="8.4" font-family="Liberation Sans, DejaVu Sans, sans-serif" fill="#262626">6</text>
<line x1="26.50" y1="898.42" x2="90.70" y2="898.42" stroke="#cccccc" stroke-width="0.55"/>
<text x="22.90" y="901.32" text-anchor="end" font-size="8.4" font-family="Liberation Sans, DejaVu Sans, sans-serif" fill="#262626">8</text>
<line x1="26.50" y1="880.95" x2="90.70" y2="880.95" stroke="#cccccc" stroke-width="0.55"/>
<text x="22.90" y="883.85" text-anchor="end" font-size="8.4" font-family="Liberation Sans, DejaVu Sans, sans-serif" fill="#262626">10</text>
<rect x="26.50" y="872.01" width="64.20" height="96.30" fill="none" stroke="#d2d2d2" stroke-width="0.7"/>
<rect x="29.71" y="922.54" width="25.68" height="4.18" fill="#3274a1" stroke="#3a3a3a" stroke-width="1.0"/>
<line x1="29.71" y1="923.51" x2="55.39" y2="923.51" stroke="#3a3a3a" stroke-width="1.0"/>
<circle cx="42.88" cy="914.19" r="1.3" fill="#0a0a0a"/>
<circle cx="41.43" cy="923.83" r="1.3" fill="#0a0a0a"/>
<circle cx="43.04" cy="922.54" r="1.3" fill="#0a0a0a"/>
<circle cx="42.88" cy="926.72" r="1.3" fill="#0a0a0a"/>
<circle cx="42.88" cy="934.27" r="1.3" fill="#0a0a0a"/>
<line x1="74.65" y1="934.59" x2="74.65" y2="926.56" stroke="#3a3a3a" stroke-width="1.0"/>
<line x1="68.23" y1="926.56" x2="81.07" y2="926.56" stroke="#3a3a3a" stroke-width="1.0"/>
<line x1="74.65" y1="962.37" x2="74.65" y2="963.17" stroke="#3a3a3a" stroke-width="1.0"/>
<line x1="68.23" y1="963.17" x2="81.07" y2="963.17" stroke="#3a3a3a" stroke-width="1.0"/>
<rect x="61.81" y="934.59" width="25.68" height="27.78" fill="#e1812c" stroke="#3a3a3a" stroke-width="1.0"/>
<line x1="61.81" y1="941.49" x2="87.49" y2="941.49" stroke="#3a3a3a" stroke-width="1.0"/>
<circle cx="74.67" cy="926.56" r="1.3" fill="#0a0a0a"/>
<circle cx="74.67" cy="934.59" r="1.3" fill="#0a0a0a"/>
<circle cx="74.67" cy="941.49" r="1.3" fill="#0a0a0a"/>
<circle cx="73.07" cy="962.37" r="1.3" fill="#0a0a0a"/>
<circle cx="74.67" cy="963.17" r="1.3" fill="#0a0a0a"/>
<path d="M42.55,910.89 V908.00 H74.65 V910.89" fill="none" stroke="#1c1c1c" stroke-width="1.0"/>
<text x="58.10" y="904.40" text-anchor="middle" font-size="11.4" font-family="DejaVu Sans, Liberation Sans, sans-serif" fill="#3a3a3a">**</text>
<text x="42.55" y="979.61" text-anchor="middle" font-size="10.2" font-family="Liberation Sans, DejaVu Sans, sans-serif" fill="#222">Fixed</text>
<text x="74.65" y="979.61" text-anchor="middle" font-size="10.2" font-family="Liberation Sans, DejaVu Sans, sans-serif" fill="#222">Sync</text>
<text transform="translate(8.90,920.16) rotate(-90)" text-anchor="middle" font-size="11.3" font-family="Liberation Sans, DejaVu Sans, sans-serif" fill="#222">Deviation angle</text>
</g>
<g>
<rect x="619.97" y="870.41" width="64.20" height="96.30" fill="#fff" stroke="none"/>
<line x1="619.97" y1="966.71" x2="684.17" y2="966.71" stroke="#cccccc" stroke-width="0.55"/>
<text x="616.37" y="969.61" text-anchor="end" font-size="8.4" font-family="Liberation Sans, DejaVu Sans, sans-serif" fill="#262626">0</text>
<line x1="619.97" y1="949.14" x2="684.17" y2="949.14" stroke="#cccccc" stroke-width="0.55"/>
<text x="616.37" y="952.04" text-anchor="end" font-size="8.4" font-family="Liberation Sans, DejaVu Sans, sans-serif" fill="#262626">2</text>
<line x1="619.97" y1="931.57" x2="684.17" y2="931.57" stroke="#cccccc" stroke-width="0.55"/>
<text x="616.37" y="934.47" text-anchor="end" font-size="8.4" font-family="Liberation Sans, DejaVu Sans, sans-serif" fill="#262626">4</text>
<line x1="619.97" y1="914.00" x2="684.17" y2="914.00" stroke="#cccccc" stroke-width="0.55"/>
<text x="616.37" y="916.90" text-anchor="end" font-size="8.4" font-family="Liberation Sans, DejaVu Sans, sans-serif" fill="#262626">6</text>
<line x1="619.97" y1="896.43" x2="684.17" y2="896.43" stroke="#cccccc" stroke-width="0.55"/>
<text x="616.37" y="899.33" text-anchor="end" font-size="8.4" font-family="Liberation Sans, DejaVu Sans, sans-serif" fill="#262626">8</text>
<line x1="619.97" y1="878.86" x2="684.17" y2="878.86" stroke="#cccccc" stroke-width="0.55"/>
<text x="616.37" y="881.76" text-anchor="end" font-size="8.4" font-family="Liberation Sans, DejaVu Sans, sans-serif" fill="#262626">10</text>
<rect x="619.97" y="870.41" width="64.20" height="96.30" fill="none" stroke="#d2d2d2" stroke-width="0.7"/>
<line x1="636.02" y1="918.53" x2="636.02" y2="902.95" stroke="#3a3a3a" stroke-width="1.0"/>
<line x1="629.60" y1="902.95" x2="642.44" y2="902.95" stroke="#3a3a3a" stroke-width="1.0"/>
<rect x="623.18" y="918.53" width="25.68" height="13.65" fill="#3274a1" stroke="#3a3a3a" stroke-width="1.0"/>
<line x1="623.18" y1="931.86" x2="648.86" y2="931.86" stroke="#3a3a3a" stroke-width="1.0"/>
<circle cx="636.35" cy="902.95" r="1.3" fill="#0a0a0a"/>
<circle cx="636.35" cy="918.85" r="1.3" fill="#0a0a0a"/>
<circle cx="635.22" cy="932.18" r="1.3" fill="#0a0a0a"/>
<circle cx="636.83" cy="932.18" r="1.3" fill="#0a0a0a"/>
<circle cx="636.35" cy="959.16" r="1.3" fill="#0a0a0a"/>
<line x1="668.12" y1="927.36" x2="668.12" y2="904.56" stroke="#3a3a3a" stroke-width="1.0"/>
<line x1="661.70" y1="904.56" x2="674.54" y2="904.56" stroke="#3a3a3a" stroke-width="1.0"/>
<line x1="668.12" y1="959.48" x2="668.12" y2="964.78" stroke="#3a3a3a" stroke-width="1.0"/>
<line x1="661.70" y1="964.78" x2="674.54" y2="964.78" stroke="#3a3a3a" stroke-width="1.0"/>
<rect x="655.28" y="927.36" width="25.68" height="32.12" fill="#e1812c" stroke="#3a3a3a" stroke-width="1.0"/>
<line x1="655.28" y1="953.54" x2="680.96" y2="953.54" stroke="#3a3a3a" stroke-width="1.0"/>
<circle cx="668.14" cy="904.56" r="1.3" fill="#0a0a0a"/>
<circle cx="668.14" cy="927.36" r="1.3" fill="#0a0a0a"/>
<circle cx="668.14" cy="953.86" r="1.3" fill="#0a0a0a"/>
<circle cx="668.14" cy="959.16" r="1.3" fill="#0a0a0a"/>
<circle cx="668.14" cy="964.78" r="1.3" fill="#0a0a0a"/>
<path d="M636.02,898.73 V896.00 H668.12 V898.73" fill="none" stroke="#1c1c1c" stroke-width="1.0"/>
<text x="652.07" y="892.83" text-anchor="middle" font-size="13.3" font-family="Liberation Sans, DejaVu Sans, sans-serif" fill="#333">n. s.</text>
<text x="636.02" y="978.01" text-anchor="middle" font-size="10.2" font-family="Liberation Sans, DejaVu Sans, sans-serif" fill="#222">Fixed</text>
<text x="668.12" y="978.01" text-anchor="middle" font-size="10.2" font-family="Liberation Sans, DejaVu Sans, sans-serif" fill="#222">Sync</text>
<text transform="translate(602.37,918.56) rotate(-90)" text-anchor="middle" font-size="11.3" font-family="Liberation Sans, DejaVu Sans, sans-serif" fill="#222">Deviation angle</text>
</g>
<g>
<rect x="60.01" y="1019.37" width="64.20" height="96.30" fill="#fff" stroke="none"/>
<line x1="60.01" y1="1115.67" x2="124.21" y2="1115.67" stroke="#cccccc" stroke-width="0.55"/>
<text x="56.41" y="1118.57" text-anchor="end" font-size="8.4" font-family="Liberation Sans, DejaVu Sans, sans-serif" fill="#262626">0</text>
<line x1="60.01" y1="1098.23" x2="124.21" y2="1098.23" stroke="#cccccc" stroke-width="0.55"/>
<text x="56.41" y="1101.13" text-anchor="end" font-size="8.4" font-family="Liberation Sans, DejaVu Sans, sans-serif" fill="#262626">2</text>
<line x1="60.01" y1="1080.79" x2="124.21" y2="1080.79" stroke="#cccccc" stroke-width="0.55"/>
<text x="56.41" y="1083.69" text-anchor="end" font-size="8.4" font-family="Liberation Sans, DejaVu Sans, sans-serif" fill="#262626">4</text>
<line x1="60.01" y1="1063.35" x2="124.21" y2="1063.35" stroke="#cccccc" stroke-width="0.55"/>
<text x="56.41" y="1066.25" text-anchor="end" font-size="8.4" font-family="Liberation Sans, DejaVu Sans, sans-serif" fill="#262626">6</text>
<line x1="60.01" y1="1045.91" x2="124.21" y2="1045.91" stroke="#cccccc" stroke-width="0.55"/>
<text x="56.41" y="1048.81" text-anchor="end" font-size="8.4" font-family="Liberation Sans, DejaVu Sans, sans-serif" fill="#262626">8</text>
<line x1="60.01" y1="1028.47" x2="124.21" y2="1028.47" stroke="#cccccc" stroke-width="0.55"/>
<text x="56.41" y="1031.37" text-anchor="end" font-size="8.4" font-family="Liberation Sans, DejaVu Sans, sans-serif" fill="#262626">10</text>
<rect x="60.01" y="1019.37" width="64.20" height="96.30" fill="none" stroke="#d2d2d2" stroke-width="0.7"/>
<line x1="76.06" y1="1065.73" x2="76.06" y2="1058.66" stroke="#3a3a3a" stroke-width="1.0"/>
<line x1="69.64" y1="1058.66" x2="82.48" y2="1058.66" stroke="#3a3a3a" stroke-width="1.0"/>
<rect x="63.22" y="1065.73" width="25.68" height="4.82" fill="#3274a1" stroke="#3a3a3a" stroke-width="1.0"/>
<line x1="63.22" y1="1069.42" x2="88.90" y2="1069.42" stroke="#3a3a3a" stroke-width="1.0"/>
<circle cx="76.07" cy="1058.66" r="1.3" fill="#0a0a0a"/>
<circle cx="76.07" cy="1065.73" r="1.3" fill="#0a0a0a"/>
<circle cx="73.98" cy="1069.10" r="1.3" fill="#0a0a0a"/>
<circle cx="76.07" cy="1070.54" r="1.3" fill="#0a0a0a"/>
<circle cx="76.07" cy="1081.78" r="1.3" fill="#0a0a0a"/>
<line x1="108.16" y1="1090.62" x2="108.16" y2="1073.43" stroke="#3a3a3a" stroke-width="1.0"/>
<line x1="101.74" y1="1073.43" x2="114.58" y2="1073.43" stroke="#3a3a3a" stroke-width="1.0"/>
<line x1="108.16" y1="1104.43" x2="108.16" y2="1113.26" stroke="#3a3a3a" stroke-width="1.0"/>
<line x1="101.74" y1="1113.26" x2="114.58" y2="1113.26" stroke="#3a3a3a" stroke-width="1.0"/>
<rect x="95.32" y="1090.62" width="25.68" height="13.81" fill="#e1812c" stroke="#3a3a3a" stroke-width="1.0"/>
<line x1="95.32" y1="1090.94" x2="121.00" y2="1090.94" stroke="#3a3a3a" stroke-width="1.0"/>
<circle cx="108.19" cy="1073.43" r="1.3" fill="#0a0a0a"/>
<circle cx="106.10" cy="1089.97" r="1.3" fill="#0a0a0a"/>
<circle cx="108.19" cy="1090.62" r="1.3" fill="#0a0a0a"/>
<circle cx="108.19" cy="1104.43" r="1.3" fill="#0a0a0a"/>
<circle cx="108.19" cy="1113.26" r="1.3" fill="#0a0a0a"/>
<path d="M76.06,1055.73 V1053.00 H108.16 V1055.73" fill="none" stroke="#1c1c1c" stroke-width="1.0"/>
<text x="91.61" y="1049.67" text-anchor="middle" font-size="11.4" font-family="DejaVu Sans, Liberation Sans, sans-serif" fill="#3a3a3a">**</text>
<text x="76.06" y="1126.97" text-anchor="middle" font-size="10.2" font-family="Liberation Sans, DejaVu Sans, sans-serif" fill="#222">Fixed</text>
<text x="108.16" y="1126.97" text-anchor="middle" font-size="10.2" font-family="Liberation Sans, DejaVu Sans, sans-serif" fill="#222">Sync</text>
<text transform="translate(42.41,1067.52) rotate(-90)" text-anchor="middle" font-size="11.3" font-family="Liberation Sans, DejaVu Sans, sans-serif" fill="#222">Deviation angle</text>
</g>
<g>
<rect x="597.30" y="1021.30" width="64.20" height="96.30" fill="#fff" stroke="none"/>
<line x1="597.30" y1="1117.60" x2="661.50" y2="1117.60" stroke="#cccccc" stroke-width="0.55"/>
<text x="593.70" y="1120.50" text-anchor="end" font-size="8.4" font-family="Liberation Sans, DejaVu Sans, sans-serif" fill="#262626">0</text>
<line x1="597.30" y1="1100.16" x2="661.50" y2="1100.16" stroke="#cccccc" stroke-width="0.55"/>
<text x="593.70" y="1103.06" text-anchor="end" font-size="8.4" font-family="Liberation Sans, DejaVu Sans, sans-serif" fill="#262626">2</text>
<line x1="597.30" y1="1082.72" x2="661.50" y2="1082.72" stroke="#cccccc" stroke-width="0.55"/>
<text x="593.70" y="1085.62" text-anchor="end" font-size="8.4" font-family="Liberation Sans, DejaVu Sans, sans-serif" fill="#262626">4</text>
<line x1="597.30" y1="1065.28" x2="661.50" y2="1065.28" stroke="#cccccc" stroke-width="0.55"/>
<text x="593.70" y="1068.18" text-anchor="end" font-size="8.4" font-family="Liberation Sans, DejaVu Sans, sans-serif" fill="#262626">6</text>
<line x1="597.30" y1="1047.84" x2="661.50" y2="1047.84" stroke="#cccccc" stroke-width="0.55"/>
<text x="593.70" y="1050.74" text-anchor="end" font-size="8.4" font-family="Liberation Sans, DejaVu Sans, sans-serif" fill="#262626">8</text>
<line x1="597.30" y1="1030.40" x2="661.50" y2="1030.40" stroke="#cccccc" stroke-width="0.55"/>
<text x="593.70" y="1033.30" text-anchor="end" font-size="8.4" font-family="Liberation Sans, DejaVu Sans, sans-serif" fill="#262626">10</text>
<rect x="597.30" y="1021.30" width="64.20" height="96.30" fill="none" stroke="#d2d2d2" stroke-width="0.7"/>
<line x1="613.35" y1="1069.42" x2="613.35" y2="1065.40" stroke="#3a3a3a" stroke-width="1.0"/>
<line x1="606.93" y1="1065.40" x2="619.77" y2="1065.40" stroke="#3a3a3a" stroke-width="1.0"/>
<line x1="613.35" y1="1075.04" x2="613.35" y2="1080.34" stroke="#3a3a3a" stroke-width="1.0"/>
<line x1="606.93" y1="1080.34" x2="619.77" y2="1080.34" stroke="#3a3a3a" stroke-width="1.0"/>
<rect x="600.51" y="1069.42" width="25.68" height="5.62" fill="#3274a1" stroke="#3a3a3a" stroke-width="1.0"/>
<line x1="600.51" y1="1072.15" x2="626.19" y2="1072.15" stroke="#3a3a3a" stroke-width="1.0"/>
<circle cx="613.68" cy="1065.40" r="1.3" fill="#0a0a0a"/>
<circle cx="613.68" cy="1069.74" r="1.3" fill="#0a0a0a"/>
<circle cx="612.56" cy="1072.63" r="1.3" fill="#0a0a0a"/>
<circle cx="613.68" cy="1075.04" r="1.3" fill="#0a0a0a"/>
<circle cx="613.68" cy="1080.34" r="1.3" fill="#0a0a0a"/>
<line x1="645.45" y1="1103.62" x2="645.45" y2="1112.78" stroke="#3a3a3a" stroke-width="1.0"/>
<line x1="639.03" y1="1112.78" x2="651.87" y2="1112.78" stroke="#3a3a3a" stroke-width="1.0"/>
<rect x="632.61" y="1093.51" width="25.68" height="10.12" fill="#e1812c" stroke="#3a3a3a" stroke-width="1.0"/>
<line x1="632.61" y1="1098.33" x2="658.29" y2="1098.33" stroke="#3a3a3a" stroke-width="1.0"/>
<circle cx="645.48" cy="1071.35" r="1.3" fill="#0a0a0a"/>
<circle cx="645.48" cy="1093.51" r="1.3" fill="#0a0a0a"/>
<circle cx="645.48" cy="1098.65" r="1.3" fill="#0a0a0a"/>
<circle cx="645.48" cy="1103.62" r="1.3" fill="#0a0a0a"/>
<circle cx="645.48" cy="1112.78" r="1.3" fill="#0a0a0a"/>
<path d="M613.35,1061.89 V1059.00 H645.45 V1061.89" fill="none" stroke="#1c1c1c" stroke-width="1.0"/>
<text x="628.90" y="1055.93" text-anchor="middle" font-size="11.4" font-family="DejaVu Sans, Liberation Sans, sans-serif" fill="#3a3a3a">*</text>
<text x="613.35" y="1128.90" text-anchor="middle" font-size="10.2" font-family="Liberation Sans, DejaVu Sans, sans-serif" fill="#222">Fixed</text>
<text x="645.45" y="1128.90" text-anchor="middle" font-size="10.2" font-family="Liberation Sans, DejaVu Sans, sans-serif" fill="#222">Sync</text>
<text transform="translate(579.70,1069.45) rotate(-90)" text-anchor="middle" font-size="11.3" font-family="Liberation Sans, DejaVu Sans, sans-serif" fill="#222">Deviation angle</text>
</g>
<g>
<rect x="174.71" y="1139.39" width="64.20" height="96.30" fill="#fff" stroke="none"/>
<line x1="174.71" y1="1235.69" x2="238.91" y2="1235.69" stroke="#cccccc" stroke-width="0.55"/>
<text x="171.11" y="1238.59" text-anchor="end" font-size="8.4" font-family="Liberation Sans, DejaVu Sans, sans-serif" fill="#262626">0</text>
<line x1="174.71" y1="1218.12" x2="238.91" y2="1218.12" stroke="#cccccc" stroke-width="0.55"/>
<text x="171.11" y="1221.02" text-anchor="end" font-size="8.4" font-family="Liberation Sans, DejaVu Sans, sans-serif" fill="#262626">2</text>
<line x1="174.71" y1="1200.55" x2="238.91" y2="1200.55" stroke="#cccccc" stroke-width="0.55"/>
<text x="171.11" y="1203.45" text-anchor="end" font-size="8.4" font-family="Liberation Sans, DejaVu Sans, sans-serif" fill="#262626">4</text>
<line x1="174.71" y1="1182.98" x2="238.91" y2="1182.98" stroke="#cccccc" stroke-width="0.55"/>
<text x="171.11" y="1185.88" text-anchor="end" font-size="8.4" font-family="Liberation Sans, DejaVu Sans, sans-serif" fill="#262626">6</text>
<line x1="174.71" y1="1165.42" x2="238.91" y2="1165.42" stroke="#cccccc" stroke-width="0.55"/>
<text x="171.11" y="1168.32" text-anchor="end" font-size="8.4" font-family="Liberation Sans, DejaVu Sans, sans-serif" fill="#262626">8</text>
<line x1="174.71" y1="1147.85" x2="238.91" y2="1147.85" stroke="#cccccc" stroke-width="0.55"/>
<text x="171.11" y="1150.75" text-anchor="end" font-size="8.4" font-family="Liberation Sans, DejaVu Sans, sans-serif" fill="#262626">10</text>
<rect x="174.71" y="1139.39" width="64.20" height="96.30" fill="none" stroke="#d2d2d2" stroke-width="0.7"/>
<rect x="177.92" y="1191.53" width="25.68" height="1.93" fill="#3274a1" stroke="#3a3a3a" stroke-width="1.0"/>
<line x1="177.92" y1="1192.49" x2="203.60" y2="1192.49" stroke="#3a3a3a" stroke-width="1.0"/>
<circle cx="190.77" cy="1182.70" r="1.3" fill="#0a0a0a"/>
<circle cx="191.89" cy="1191.53" r="1.3" fill="#0a0a0a"/>
<circle cx="189.97" cy="1193.13" r="1.3" fill="#0a0a0a"/>
<circle cx="190.77" cy="1193.46" r="1.3" fill="#0a0a0a"/>
<circle cx="190.77" cy="1208.07" r="1.3" fill="#0a0a0a"/>
<line x1="222.86" y1="1207.75" x2="222.86" y2="1200.04" stroke="#3a3a3a" stroke-width="1.0"/>
<line x1="216.44" y1="1200.04" x2="229.28" y2="1200.04" stroke="#3a3a3a" stroke-width="1.0"/>
<line x1="222.86" y1="1218.83" x2="222.86" y2="1228.95" stroke="#3a3a3a" stroke-width="1.0"/>
<line x1="216.44" y1="1228.95" x2="229.28" y2="1228.95" stroke="#3a3a3a" stroke-width="1.0"/>
<rect x="210.02" y="1207.75" width="25.68" height="11.08" fill="#e1812c" stroke="#3a3a3a" stroke-width="1.0"/>
<line x1="210.02" y1="1209.19" x2="235.70" y2="1209.19" stroke="#3a3a3a" stroke-width="1.0"/>
<circle cx="222.57" cy="1200.04" r="1.3" fill="#0a0a0a"/>
<circle cx="220.80" cy="1208.07" r="1.3" fill="#0a0a0a"/>
<circle cx="222.57" cy="1209.35" r="1.3" fill="#0a0a0a"/>
<circle cx="222.57" cy="1218.83" r="1.3" fill="#0a0a0a"/>
<circle cx="222.57" cy="1228.95" r="1.3" fill="#0a0a0a"/>
<path d="M190.76,1179.05 V1176.00 H222.86 V1179.05" fill="none" stroke="#1c1c1c" stroke-width="1.0"/>
<text x="206.31" y="1173.06" text-anchor="middle" font-size="11.4" font-family="DejaVu Sans, Liberation Sans, sans-serif" fill="#3a3a3a">**</text>
<text x="190.76" y="1246.99" text-anchor="middle" font-size="10.2" font-family="Liberation Sans, DejaVu Sans, sans-serif" fill="#222">Fixed</text>
<text x="222.86" y="1246.99" text-anchor="middle" font-size="10.2" font-family="Liberation Sans, DejaVu Sans, sans-serif" fill="#222">Sync</text>
<text transform="translate(157.11,1187.54) rotate(-90)" text-anchor="middle" font-size="11.3" font-family="Liberation Sans, DejaVu Sans, sans-serif" fill="#222">Deviation angle</text>
</g>
<g>
<rect x="470.03" y="1139.39" width="64.20" height="96.30" fill="#fff" stroke="none"/>
<line x1="470.03" y1="1235.69" x2="534.23" y2="1235.69" stroke="#cccccc" stroke-width="0.55"/>
<text x="466.43" y="1238.59" text-anchor="end" font-size="8.4" font-family="Liberation Sans, DejaVu Sans, sans-serif" fill="#262626">0</text>
<line x1="470.03" y1="1218.12" x2="534.23" y2="1218.12" stroke="#cccccc" stroke-width="0.55"/>
<text x="466.43" y="1221.02" text-anchor="end" font-size="8.4" font-family="Liberation Sans, DejaVu Sans, sans-serif" fill="#262626">2</text>
<line x1="470.03" y1="1200.55" x2="534.23" y2="1200.55" stroke="#cccccc" stroke-width="0.55"/>
<text x="466.43" y="1203.45" text-anchor="end" font-size="8.4" font-family="Liberation Sans, DejaVu Sans, sans-serif" fill="#262626">4</text>
<line x1="470.03" y1="1182.98" x2="534.23" y2="1182.98" stroke="#cccccc" stroke-width="0.55"/>
<text x="466.43" y="1185.88" text-anchor="end" font-size="8.4" font-family="Liberation Sans, DejaVu Sans, sans-serif" fill="#262626">6</text>
<line x1="470.03" y1="1165.42" x2="534.23" y2="1165.42" stroke="#cccccc" stroke-width="0.55"/>
<text x="466.43" y="1168.32" text-anchor="end" font-size="8.4" font-family="Liberation Sans, DejaVu Sans, sans-serif" fill="#262626">8</text>
<line x1="470.03" y1="1147.85" x2="534.23" y2="1147.85" stroke="#cccccc" stroke-width="0.55"/>
<text x="466.43" y="1150.75" text-anchor="end" font-size="8.4" font-family="Liberation Sans, DejaVu Sans, sans-serif" fill="#262626">10</text>
<rect x="470.03" y="1139.39" width="64.20" height="96.30" fill="none" stroke="#d2d2d2" stroke-width="0.7"/>
<rect x="473.24" y="1188.48" width="25.68" height="4.34" fill="#3274a1" stroke="#3a3a3a" stroke-width="1.0"/>
<line x1="473.24" y1="1190.40" x2="498.92" y2="1190.40" stroke="#3a3a3a" stroke-width="1.0"/>
<circle cx="486.09" cy="1161.18" r="1.3" fill="#0a0a0a"/>
<circle cx="487.05" cy="1188.32" r="1.3" fill="#0a0a0a"/>
<circle cx="485.29" cy="1190.40" r="1.3" fill="#0a0a0a"/>
<circle cx="486.09" cy="1192.81" r="1.3" fill="#0a0a0a"/>
<circle cx="486.09" cy="1204.05" r="1.3" fill="#0a0a0a"/>
<line x1="518.18" y1="1210.16" x2="518.18" y2="1198.11" stroke="#3a3a3a" stroke-width="1.0"/>
<line x1="511.76" y1="1198.11" x2="524.60" y2="1198.11" stroke="#3a3a3a" stroke-width="1.0"/>
<line x1="518.18" y1="1218.99" x2="518.18" y2="1225.41" stroke="#3a3a3a" stroke-width="1.0"/>
<line x1="511.76" y1="1225.41" x2="524.60" y2="1225.41" stroke="#3a3a3a" stroke-width="1.0"/>
<rect x="505.34" y="1210.16" width="25.68" height="8.83" fill="#e1812c" stroke="#3a3a3a" stroke-width="1.0"/>
<line x1="505.34" y1="1214.97" x2="531.02" y2="1214.97" stroke="#3a3a3a" stroke-width="1.0"/>
<circle cx="517.89" cy="1198.11" r="1.3" fill="#0a0a0a"/>
<circle cx="517.89" cy="1210.16" r="1.3" fill="#0a0a0a"/>
<circle cx="517.89" cy="1214.97" r="1.3" fill="#0a0a0a"/>
<circle cx="517.89" cy="1218.99" r="1.3" fill="#0a0a0a"/>
<circle cx="517.89" cy="1225.41" r="1.3" fill="#0a0a0a"/>
<path d="M486.08,1157.21 V1154.00 H518.18 V1157.21" fill="none" stroke="#1c1c1c" stroke-width="1.0"/>
<text x="501.63" y="1150.90" text-anchor="middle" font-size="11.4" font-family="DejaVu Sans, Liberation Sans, sans-serif" fill="#3a3a3a">**</text>
<text x="486.08" y="1246.99" text-anchor="middle" font-size="10.2" font-family="Liberation Sans, DejaVu Sans, sans-serif" fill="#222">Fixed</text>
<text x="518.18" y="1246.99" text-anchor="middle" font-size="10.2" font-family="Liberation Sans, DejaVu Sans, sans-serif" fill="#222">Sync</text>
<text transform="translate(452.43,1187.54) rotate(-90)" text-anchor="middle" font-size="11.3" font-family="Liberation Sans, DejaVu Sans, sans-serif" fill="#222">Deviation angle</text>
</g>
<g>
<rect x="322.60" y="1169.37" width="64.20" height="96.30" fill="#fff" stroke="none"/>
<line x1="322.60" y1="1265.67" x2="386.80" y2="1265.67" stroke="#cccccc" stroke-width="0.55"/>
<text x="319.00" y="1268.57" text-anchor="end" font-size="8.4" font-family="Liberation Sans, DejaVu Sans, sans-serif" fill="#262626">0</text>
<line x1="322.60" y1="1248.13" x2="386.80" y2="1248.13" stroke="#cccccc" stroke-width="0.55"/>
<text x="319.00" y="1251.03" text-anchor="end" font-size="8.4" font-family="Liberation Sans, DejaVu Sans, sans-serif" fill="#262626">2</text>
<line x1="322.60" y1="1230.60" x2="386.80" y2="1230.60" stroke="#cccccc" stroke-width="0.55"/>
<text x="319.00" y="1233.50" text-anchor="end" font-size="8.4" font-family="Liberation Sans, DejaVu Sans, sans-serif" fill="#262626">4</text>
<line x1="322.60" y1="1213.06" x2="386.80" y2="1213.06" stroke="#cccccc" stroke-width="0.55"/>
<text x="319.00" y="1215.96" text-anchor="end" font-size="8.4" font-family="Liberation Sans, DejaVu Sans, sans-serif" fill="#262626">6</text>
<line x1="322.60" y1="1195.52" x2="386.80" y2="1195.52" stroke="#cccccc" stroke-width="0.55"/>
<text x="319.00" y="1198.42" text-anchor="end" font-size="8.4" font-family="Liberation Sans, DejaVu Sans, sans-serif" fill="#262626">8</text>
<line x1="322.60" y1="1177.99" x2="386.80" y2="1177.99" stroke="#cccccc" stroke-width="0.55"/>
<text x="319.00" y="1180.89" text-anchor="end" font-size="8.4" font-family="Liberation Sans, DejaVu Sans, sans-serif" fill="#262626">10</text>
<rect x="322.60" y="1169.37" width="64.20" height="96.30" fill="none" stroke="#d2d2d2" stroke-width="0.7"/>
<line x1="338.65" y1="1222.31" x2="338.65" y2="1221.02" stroke="#3a3a3a" stroke-width="1.0"/>
<line x1="332.23" y1="1221.02" x2="345.07" y2="1221.02" stroke="#3a3a3a" stroke-width="1.0"/>
<rect x="325.81" y="1222.31" width="25.68" height="3.21" fill="#3274a1" stroke="#3a3a3a" stroke-width="1.0"/>
<line x1="325.81" y1="1222.95" x2="351.49" y2="1222.95" stroke="#3a3a3a" stroke-width="1.0"/>
<circle cx="341.07" cy="1221.02" r="1.3" fill="#0a0a0a"/>
<circle cx="338.18" cy="1222.63" r="1.3" fill="#0a0a0a"/>
<circle cx="336.57" cy="1223.92" r="1.3" fill="#0a0a0a"/>
<circle cx="338.18" cy="1225.52" r="1.3" fill="#0a0a0a"/>
<circle cx="338.18" cy="1237.08" r="1.3" fill="#0a0a0a"/>
<line x1="370.75" y1="1238.69" x2="370.75" y2="1234.19" stroke="#3a3a3a" stroke-width="1.0"/>
<line x1="364.33" y1="1234.19" x2="377.17" y2="1234.19" stroke="#3a3a3a" stroke-width="1.0"/>
<rect x="357.91" y="1238.69" width="25.68" height="4.82" fill="#e1812c" stroke="#3a3a3a" stroke-width="1.0"/>
<line x1="357.91" y1="1239.01" x2="383.59" y2="1239.01" stroke="#3a3a3a" stroke-width="1.0"/>
<circle cx="370.30" cy="1234.19" r="1.3" fill="#0a0a0a"/>
<circle cx="368.69" cy="1238.69" r="1.3" fill="#0a0a0a"/>
<circle cx="370.30" cy="1239.49" r="1.3" fill="#0a0a0a"/>
<circle cx="370.30" cy="1243.51" r="1.3" fill="#0a0a0a"/>
<circle cx="370.30" cy="1259.57" r="1.3" fill="#0a0a0a"/>
<path d="M338.65,1217.41 V1215.00 H370.75 V1217.41" fill="none" stroke="#1c1c1c" stroke-width="1.0"/>
<text x="354.20" y="1212.03" text-anchor="middle" font-size="11.4" font-family="DejaVu Sans, Liberation Sans, sans-serif" fill="#3a3a3a">**</text>
<text x="338.65" y="1276.97" text-anchor="middle" font-size="10.2" font-family="Liberation Sans, DejaVu Sans, sans-serif" fill="#222">Fixed</text>
<text x="370.75" y="1276.97" text-anchor="middle" font-size="10.2" font-family="Liberation Sans, DejaVu Sans, sans-serif" fill="#222">Sync</text>
<text transform="translate(305.00,1217.52) rotate(-90)" text-anchor="middle" font-size="11.3" font-family="Liberation Sans, DejaVu Sans, sans-serif" fill="#222">Deviation angle</text>
</g>
<rect x="584.3" y="575.4" width="96.1" height="66.3" rx="3" ry="3" fill="#fff" fill-opacity="0.8" stroke="#cccccc" stroke-width="1"/>
<line x1="589.2" y1="586.45" x2="619.1" y2="586.45" stroke="#000" stroke-width="1.15" stroke-dasharray="2.9,1.9"/>
<circle cx="604.0" cy="586.45" r="2.95" fill="#000"/>
<text x="630.0" y="591.35" font-size="14.25" font-family="DejaVu Sans, Liberation Sans, sans-serif" fill="#111">Target</text>
<line x1="589.2" y1="607.45" x2="619.1" y2="607.45" stroke="#1f77b4" stroke-width="1.15"/>
<circle cx="604.0" cy="607.45" r="2.95" fill="#1f77b4"/>
<text x="630.0" y="612.35" font-size="14.25" font-family="DejaVu Sans, Liberation Sans, sans-serif" fill="#111">Fixed</text>
<line x1="589.2" y1="628.45" x2="619.1" y2="628.45" stroke="#ff7f0e" stroke-width="1.15"/>
<circle cx="604.0" cy="628.45" r="2.95" fill="#ff7f0e"/>
<text x="630.0" y="633.35" font-size="14.25" font-family="DejaVu Sans, Liberation Sans, sans-serif" fill="#111">Sync</text>
<text x="291.0" y="1325.1" font-size="21.2" font-family="Liberation Serif, DejaVu Serif, serif" textLength="26.0" lengthAdjust="spacingAndGlyphs" fill="#111">(b)</text>
<text x="325.1" y="1325.1" font-size="21" font-family="Liberation Serif, DejaVu Serif, serif" font-style="italic" textLength="7.7" lengthAdjust="spacingAndGlyphs" fill="#111">θ</text>
<text x="341.6" y="1328.5" font-size="22" font-family="Liberation Serif, DejaVu Serif, serif" textLength="15.2" lengthAdjust="spacingAndGlyphs" fill="#111">=</text>
<text x="364.0" y="1325.1" font-size="20.8" font-family="Liberation Serif, DejaVu Serif, serif" textLength="20.2" lengthAdjust="spacingAndGlyphs" fill="#111">10</text>
<text x="384.9" y="1324.9" font-size="24" font-family="Liberation Serif, DejaVu Serif, serif" fill="#111">°</text>
</svg>
</body></html>
